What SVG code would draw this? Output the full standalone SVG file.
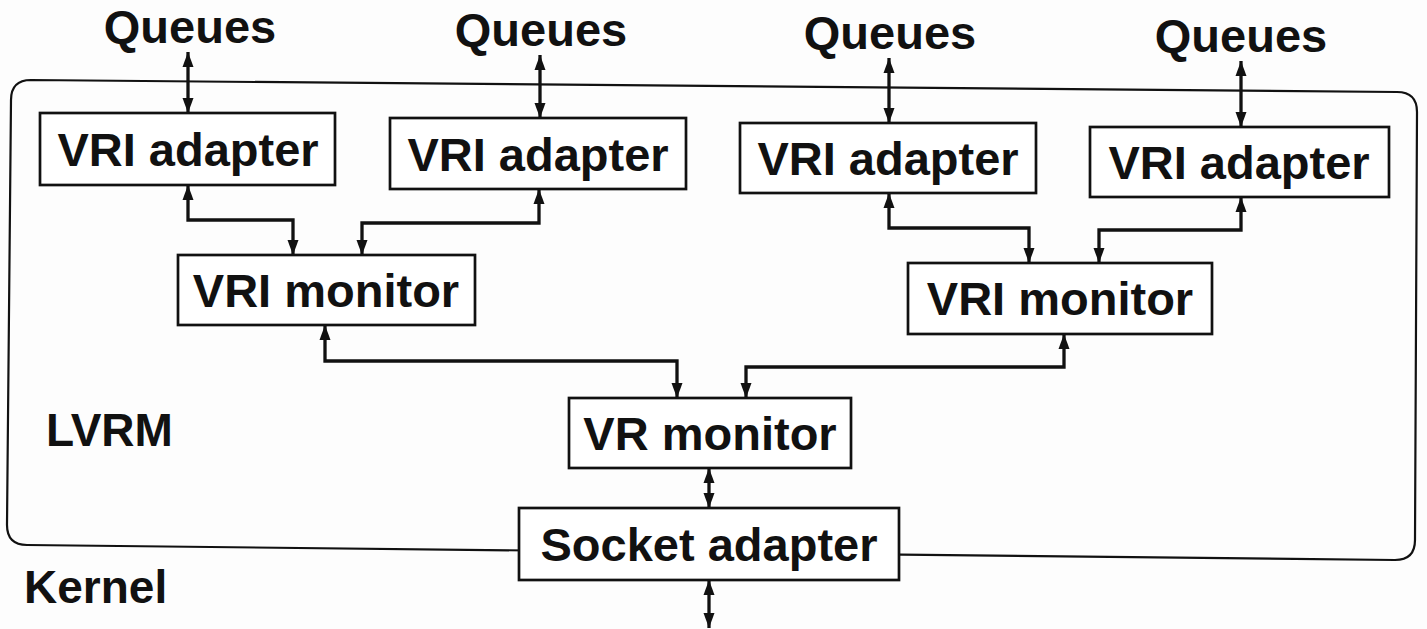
<svg xmlns="http://www.w3.org/2000/svg" width="1427" height="629" viewBox="0 0 1427 629">
  <style>
    .box { fill: #ffffff; stroke: #111111; stroke-width: 2.7; }
    .lbl { font-family: "Liberation Sans", Arial, sans-serif; font-weight: bold; font-size: 47px; fill: #111111; text-anchor: middle; }
    .free { font-family: "Liberation Sans", Arial, sans-serif; font-weight: bold; font-size: 46px; fill: #111111; }
    .conn { fill: none; stroke: #111111; stroke-width: 3.3; marker-start: url(#ah); marker-end: url(#ah); }
    .outer { fill: none; stroke: #111111; stroke-width: 2.2; }
  </style>
  <defs>
    <marker id="ah" markerUnits="userSpaceOnUse" markerWidth="16" markerHeight="12" viewBox="0 0 16 12" refX="15" refY="6" orient="auto-start-reverse">
      <path d="M0,0.5 L15,6 L0,11.5 Z" fill="#111111"/>
    </marker>
  </defs>
  <rect width="1427" height="629" fill="#fdfdfd"/>

  <g id="lvrm-boundary">
    <path class="outer" d="M31,80 L1397,92 Q1417,92 1417,112 L1415,540 Q1415,560 1395,560 L27,545 Q7,545 7,525 L11,100 Q11,80 31,80 Z"/>
    <text class="free" x="46" y="446">LVRM</text>
  </g>
  <g id="kernel-label">
    <text class="free" x="24" y="603">Kernel</text>
  </g>

  <g id="queues-1"><text class="lbl" x="190" y="43" font-size="45">Queues</text></g>
  <g id="queues-2"><text class="lbl" x="541" y="46" font-size="45">Queues</text></g>
  <g id="queues-3"><text class="lbl" x="890" y="49" font-size="45">Queues</text></g>
  <g id="queues-4"><text class="lbl" x="1241" y="52" font-size="45">Queues</text></g>

  <g id="connectors">
    <path class="conn" d="M188,52 L188,113"/>
    <path class="conn" d="M540,55 L540,118"/>
    <path class="conn" d="M889,58 L889,123"/>
    <path class="conn" d="M1241,61 L1241,127"/>
    <path class="conn" d="M188,185 V220 H293 V255"/>
    <path class="conn" d="M539,189 V223 H362 V255"/>
    <path class="conn" d="M889,193 V228 H1029 V263"/>
    <path class="conn" d="M1241,197 V230 H1099 V263"/>
    <path class="conn" d="M325,325 V361 H677 V398"/>
    <path class="conn" d="M1064,334 V367 H746 V398"/>
    <path class="conn" d="M709,468 V508"/>
    <path class="conn" d="M709,580 V628"/>
  </g>

  <g id="vri-adapter-1">
    <rect class="box" x="40" y="113" width="295" height="72"/>
    <text class="lbl" x="188" y="166">VRI adapter</text>
  </g>
  <g id="vri-adapter-2">
    <rect class="box" x="390" y="118" width="296" height="71"/>
    <text class="lbl" x="538" y="171">VRI adapter</text>
  </g>
  <g id="vri-adapter-3">
    <rect class="box" x="740" y="123" width="296" height="70"/>
    <text class="lbl" x="888" y="175">VRI adapter</text>
  </g>
  <g id="vri-adapter-4">
    <rect class="box" x="1090" y="127" width="299" height="70"/>
    <text class="lbl" x="1239" y="179">VRI adapter</text>
  </g>
  <g id="vri-monitor-1">
    <rect class="box" x="178" y="255" width="297" height="70"/>
    <text class="lbl" x="326" y="307">VRI monitor</text>
  </g>
  <g id="vri-monitor-2">
    <rect class="box" x="908" y="263" width="304" height="71"/>
    <text class="lbl" x="1060" y="315">VRI monitor</text>
  </g>
  <g id="vr-monitor">
    <rect class="box" x="569" y="398" width="282" height="70"/>
    <text class="lbl" x="710" y="450">VR monitor</text>
  </g>
  <g id="socket-adapter">
    <rect class="box" x="519" y="508" width="380" height="72"/>
    <text class="lbl" x="709" y="561">Socket adapter</text>
  </g>
</svg>
